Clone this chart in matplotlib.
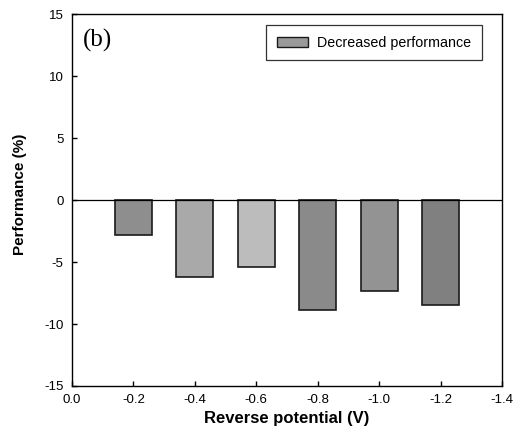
import matplotlib
matplotlib.use("Agg")
import matplotlib.pyplot as plt
from matplotlib.patches import Patch

# Reverse potential (V) and decrease in performance (%)
potentials = [-0.2, -0.4, -0.6, -0.8, -1.0, -1.2]
performance = [-2.8, -6.2, -5.4, -8.9, -7.3, -8.5]
bar_greys = ["#8e8e8e", "#a9a9a9", "#bcbcbc", "#8a8a8a", "#939393", "#808080"]

x_ticks = [0.0, -0.2, -0.4, -0.6, -0.8, -1.0, -1.2, -1.4]
x_ticklabels = ["0.0", "-0.2", "-0.4", "-0.6", "-0.8", "-1.0", "-1.2", "-1.4"]
y_ticks = [-15, -10, -5, 0, 5, 10, 15]

plt.rcParams["font.family"] = ["Liberation Sans", "DejaVu Sans"]
plt.rcParams["axes.unicode_minus"] = False

fig = plt.figure(figsize=(5.25, 4.34), dpi=100)
ax = fig.add_axes([72 / 525, 1 - 386 / 434, 430 / 525, 372 / 434])

ax.bar(potentials, performance, width=0.12, color=bar_greys,
       edgecolor="#1a1a1a", linewidth=1.2, zorder=2)
ax.axhline(0, color="black", linewidth=0.9, zorder=3)

ax.set_xlim(0.0, -1.4)
ax.set_ylim(-15, 15)
ax.set_xticks(x_ticks)
ax.set_xticklabels(x_ticklabels)
ax.set_yticks(y_ticks)
ax.tick_params(axis="both", direction="in", length=3.5, width=1,
               labelsize=9.5, top=False, right=False)
ax.tick_params(axis="y", pad=6)
ax.tick_params(axis="x", pad=6)
for side in ax.spines.values():
    side.set_linewidth(1.0)

ax.set_xlabel("Reverse potential (V)", fontsize=12, fontweight="bold")
ax.set_ylabel("Performance (%)", fontsize=11, fontweight="bold")
ax.xaxis.set_label_coords(0.5, -25 / 372, transform=ax.transAxes)
ax.yaxis.set_label_coords(-45 / 430, 0.515, transform=ax.transAxes)

ax.text(0.025, 0.96, "(b)", transform=ax.transAxes, fontsize=18,
        family="Liberation Serif", va="top", ha="left")

legend_patch = Patch(facecolor="#9a9a9a", edgecolor="#1a1a1a", linewidth=1.0,
                     label="Decreased performance")
leg = ax.legend(handles=[legend_patch], loc="upper right",
                bbox_to_anchor=(410 / 430, 361 / 372), borderaxespad=0,
                fontsize=10.3, frameon=True, fancybox=False, edgecolor="black",
                handlelength=2.2, handleheight=0.7, borderpad=0.75,
                handletextpad=0.63)
leg.get_frame().set_linewidth(0.9)

fig.savefig("out.png", dpi=100)
